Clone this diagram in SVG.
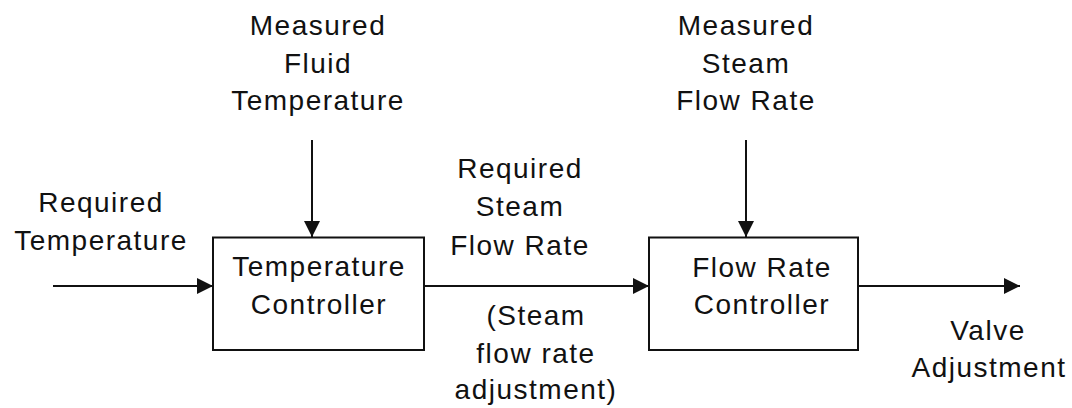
<svg xmlns="http://www.w3.org/2000/svg" width="1072" height="408" viewBox="0 0 1072 408">
<style>
text{font-family:"Liberation Sans",Arial,sans-serif;font-size:28px;fill:#111;text-anchor:middle;letter-spacing:1.5px}
.box{fill:#fff;stroke:#111;stroke-width:2}
.conn{stroke:#111;stroke-width:2;fill:none;marker-end:url(#ah)}
</style>
<defs>
<marker id="ah" markerWidth="16" markerHeight="16" viewBox="0 0 16 16" refX="16" refY="8" orient="auto" markerUnits="userSpaceOnUse">
<path d="M0,0 L16,8 L0,16 Z" fill="#111"/>
</marker>
</defs>
<rect width="1072" height="408" fill="#fff"/>
<g id="connectors">
<line class="conn" x1="53" y1="286" x2="213" y2="286"/>
<line class="conn" x1="424" y1="286" x2="649" y2="286"/>
<line class="conn" x1="858" y1="286" x2="1020" y2="286"/>
<line class="conn" x1="312" y1="140" x2="312" y2="237"/>
<line class="conn" x1="746" y1="140" x2="746" y2="237"/>
</g>
<g id="temperature-controller">
<rect class="box" x="213" y="237.5" width="211" height="112.5"/>
<text x="319" y="276">Temperature</text>
<text x="319" y="314">Controller</text>
</g>
<g id="flow-rate-controller">
<rect class="box" x="649" y="237.5" width="209" height="112.5"/>
<text x="762" y="277">Flow Rate</text>
<text x="762" y="314">Controller</text>
</g>
<g id="required-temperature">
<text x="101" y="212">Required</text>
<text x="101" y="250">Temperature</text>
</g>
<g id="measured-fluid-temperature">
<text x="318" y="35">Measured</text>
<text x="318" y="73">Fluid</text>
<text x="318" y="110">Temperature</text>
</g>
<g id="measured-steam-flow-rate">
<text x="746" y="35">Measured</text>
<text x="746" y="73">Steam</text>
<text x="746" y="110">Flow Rate</text>
</g>
<g id="required-steam-flow-rate">
<text x="520" y="178">Required</text>
<text x="520" y="216">Steam</text>
<text x="520" y="255">Flow Rate</text>
</g>
<g id="steam-flow-rate-adjustment">
<text x="536" y="325">(Steam</text>
<text x="536" y="363">flow rate</text>
<text x="536" y="399">adjustment)</text>
</g>
<g id="valve-adjustment">
<text x="988" y="340">Valve</text>
<text x="989" y="377">Adjustment</text>
</g>
</svg>
